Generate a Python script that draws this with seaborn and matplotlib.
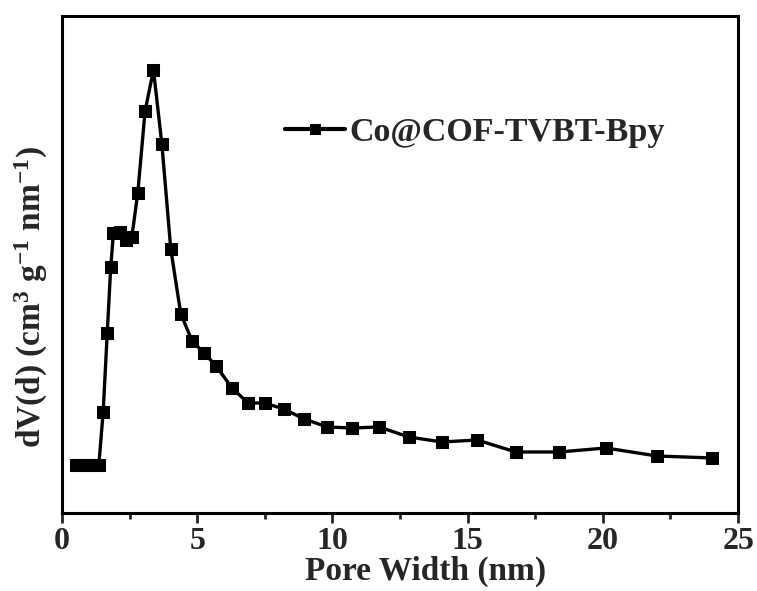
import pandas as pd
import matplotlib
matplotlib.use('Agg')
import matplotlib.pyplot as plt
import seaborn as sns
from matplotlib.ticker import MultipleLocator

# pore size distribution
pore_width = [0.52, 0.68, 0.85, 1.02, 1.18, 1.36, 1.52, 1.67, 1.80, 1.90,
              2.14, 2.35, 2.58, 2.80, 3.07, 3.38, 3.69, 4.02, 4.39, 4.81,
              5.25, 5.70, 6.28, 6.88, 7.49, 8.19, 8.96, 9.80, 10.74, 11.73,
              12.82, 14.05, 15.35, 16.78, 18.39, 20.11, 22.00, 24.04]
dv = [0.0, 0.0, 0.0, 0.0, 0.0, 0.0, 0.0053, 0.0132, 0.0198, 0.0232,
      0.0233, 0.0225, 0.0228, 0.0272, 0.0354, 0.0395, 0.0321, 0.0216, 0.0151, 0.0124,
      0.0112, 0.0099, 0.0077, 0.0062, 0.0062, 0.0056, 0.0046, 0.0038, 0.0037, 0.0038,
      0.0028, 0.0023, 0.0025, 0.0013, 0.0013, 0.0017, 0.0009, 0.0007]
sample = 'Co@COF-TVBT-Bpy'

df = pd.DataFrame({'Pore': pore_width, 'dV': dv, 'Amostra': sample})

sns.set_style('ticks')
plt.rcParams['font.family'] = ['Liberation Serif', 'DejaVu Serif']
plt.rcParams['font.weight'] = 'bold'
plt.rcParams['mathtext.fontset'] = 'custom'
plt.rcParams['mathtext.rm'] = 'Liberation Serif:bold'
plt.rcParams['mathtext.default'] = 'regular'

fig = plt.figure(figsize=(7.57, 5.91), dpi=100)
ax = fig.add_axes([0.082, 0.132, 0.893, 0.841])

sns.lineplot(data=df, x='Pore', y='dV', hue='Amostra', palette=['black'],
             estimator=None, sort=False, marker='s', markersize=9,
             markeredgecolor='black', linewidth=2.4, ax=ax)

ax.set_xlim(0, 25)
ax.set_ylim(-0.0048, 0.0449)
ax.xaxis.set_major_locator(MultipleLocator(5))
ax.xaxis.set_minor_locator(MultipleLocator(2.5))
ax.tick_params(axis='x', which='major', direction='out', length=7, width=2, labelsize=23, pad=3)
ax.tick_params(axis='x', which='minor', direction='out', length=4, width=2)
ax.set_yticks([])
for s in ax.spines.values():
    s.set_visible(True)
    s.set_linewidth(2.2)
    s.set_color('black')

ax.set_xlabel('Pore Width (nm)', fontsize=24, fontweight='bold')
ax.xaxis.label.set_va('center')
ax.xaxis.set_label_coords(0.537, -0.118)
ax.set_ylabel(r'dV(d) (cm$^{3}$ g$^{-1}$ nm$^{-1}$)', fontsize=24, fontweight='bold')
ax.yaxis.label.set_va('center')
ax.yaxis.set_label_coords(-0.046, 0.435)

leg = ax.legend(loc='center left', bbox_to_anchor=(0.33, 0.765), frameon=False,
                fontsize=24.5, handlelength=1.75, handletextpad=0.15,
                borderpad=0, borderaxespad=0, markerscale=0.75)
for t in leg.get_texts():
    t.set_fontweight('bold')
for h in leg.legend_handles:
    h.set_linewidth(3)

plt.savefig('out.png', dpi=100)
